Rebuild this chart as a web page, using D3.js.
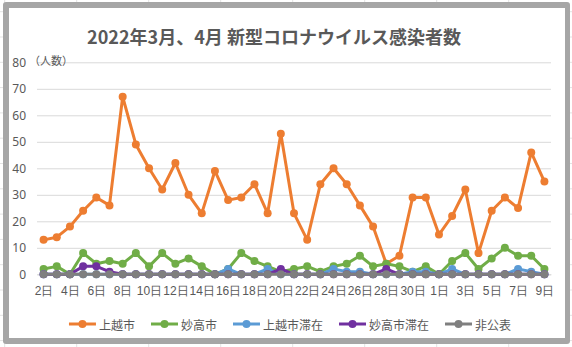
<!DOCTYPE html>
<html><head><meta charset="utf-8">
<script src="https://cdn.jsdelivr.net/npm/d3@7"></script>
<style>
html,body{margin:0;padding:0;background:#fff;}
svg{display:block;font-family:"Noto Sans CJK JP","Noto Sans",sans-serif;}
</style></head>
<body><svg id="c" width="572" height="347"></svg>
<script>
const titleText = "2022年3月、4月 新型コロナウイルス感染者数";
const categories = ["2日","3日","4日","5日","6日","7日","8日","9日","10日","11日","12日","13日","14日","15日","16日","17日","18日","19日","20日","21日","22日","23日","24日","25日","26日","27日","28日","29日","30日","31日","1日","2日","3日","4日","5日","6日","7日","8日","9日"];
const joetsu    = [13,14,18,24,29,26,67,49,40,32,42,30,23,39,28,29,34,23,53,23,13,34,40,34,26,18,4,7,29,29,15,22,32,8,24,29,25,46,35];
const myoko     = [2,3,0,8,4,5,4,8,3,8,4,6,3,0,2,8,5,3,1,2,3,1,3,4,7,3,4,3,1,3,0,5,8,2,6,10,7,7,2];
const joetsuStay= [0,0,0,0,0,0,0,0,0,0,0,0,0,0,2,0,0,2,0,0,0,0,2,1,1,0,0,0,1,1,0,2,0,0,0,0,2,1,0];
const myokoStay = [0,0,0,3,3,1,0,0,0,0,0,0,0,0,0,0,0,0,2,0,0,0,0,0,0,0,2,0,0,0,0,0,0,0,0,0,0,0,0];
const undisclosed=[0,0,0,0,0,0,0,0,0,0,0,0,0,0,0,0,0,0,0,0,0,0,0,0,0,0,0,0,0,0,0,0,0,0,0,0,0,0,0];
const seriesNames = ["上越市","妙高市","上越市滞在","妙高市滞在","非公表"];
const seriesColors = ["#ED7D31","#70AD47","#5B9BD5","#7030A0","#7F7F7F"];
const yTicks = [0,10,20,30,40,50,60,70,80];
const yUnit = "（人数）";

const series = [joetsu, myoko, joetsuStay, myokoStay, undisclosed];
const svg = d3.select("#c");

// spreadsheet background grid
const bg = svg.append("g");
d3.range(4.7, 572, 72).forEach(x => bg.append("line").attr("x1",x).attr("x2",x).attr("y1",0).attr("y2",347).attr("stroke","#E3E3E3"));
d3.range(11.7, 347, 25.3).forEach(y => bg.append("line").attr("x1",0).attr("x2",572).attr("y1",y).attr("y2",y).attr("stroke","#E3E3E3"));

// frame
svg.append("rect").attr("x",3).attr("y",2).attr("width",567).attr("height",342).attr("rx",3).attr("fill","#A6A6A6");
svg.append("rect").attr("x",9).attr("y",8).attr("width",556).attr("height",330).attr("fill","#fff");

const x = d3.scalePoint().domain(d3.range(categories.length)).range([37,551]).padding(0.5);
const y = d3.scaleLinear().domain([0,80]).range([274.3,62.3]);

// title
svg.append("text").attr("x",274).attr("y",36).attr("text-anchor","middle").attr("dominant-baseline","central")
  .attr("font-size",18).attr("font-weight","bold").attr("fill","#595959").text(titleText);

// gridlines
const yAxis = d3.axisLeft(y).tickValues(yTicks).tickSize(-(551-37)).tickPadding(11);
const gy = svg.append("g").attr("transform","translate(37,0)").call(yAxis);
gy.select(".domain").remove();
gy.selectAll(".tick line").attr("stroke","#D9D9D9");
gy.selectAll(".tick text").attr("font-size",12).attr("fill","#595959").attr("font-family","'Noto Sans','DejaVu Sans',sans-serif");

svg.append("text").attr("x",29).attr("y",60).attr("dominant-baseline","central").attr("font-size",11).attr("fill","#595959").text(yUnit);

// x axis
const xAxis = d3.axisBottom(x).tickValues(d3.range(0,categories.length,2)).tickFormat(i => categories[i]).tickSize(0).tickPadding(12);
const gx = svg.append("g").attr("transform","translate(0,274.3)").call(xAxis);
gx.select(".domain").attr("stroke","#D9D9D9");
gx.selectAll(".tick text").attr("font-size",12).attr("fill","#595959");

// series
const line = d3.line().x((d,i)=>x(i)).y(d=>y(d));
series.forEach((vals, si) => {
  const g = svg.append("g");
  g.append("path").datum(vals).attr("d",line).attr("fill","none").attr("stroke",seriesColors[si]).attr("stroke-width",3).attr("stroke-linejoin","round");
  g.selectAll("circle").data(vals).join("circle").attr("cx",(d,i)=>x(i)).attr("cy",d=>y(d)).attr("r",4).attr("fill",seriesColors[si]);
});

// legend
const lg = svg.append("g");
const items = [];
let cx = 0;
seriesNames.forEach((n, i) => {
  const it = lg.append("g");
  it.append("line").attr("x1",0).attr("x2",27).attr("y1",0).attr("y2",0).attr("stroke",seriesColors[i]).attr("stroke-width",3);
  it.append("circle").attr("cx",13.5).attr("cy",0).attr("r",4).attr("fill",seriesColors[i]);
  const t = it.append("text").attr("x",30).attr("y",0).attr("dominant-baseline","central").attr("font-size",12).attr("fill","#595959").text(n);
  const w = 30 + t.node().getComputedTextLength();
  it.attr("transform",`translate(${cx},324)`);
  cx += w + 16;
});
const total = cx - 16;
lg.attr("transform",`translate(${290 - total/2},0)`);
</script></body></html>
